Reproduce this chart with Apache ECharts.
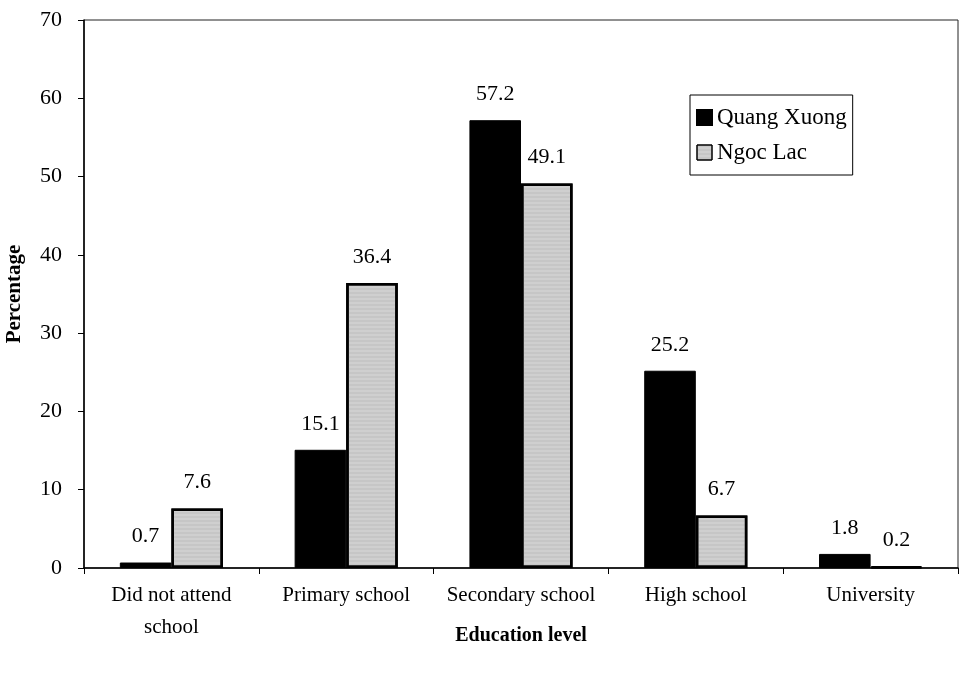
<!DOCTYPE html>
<html><head><meta charset="utf-8">
<script src="https://cdn.jsdelivr.net/npm/echarts@6/dist/echarts.min.js"></script>
<style>html,body{margin:0;padding:0;background:#fff}#c{width:961px;height:678px}</style>
</head><body><div id="c"></div>
<script>
const categories = ['Did not attend\nschool', 'Primary school', 'Secondary school', 'High school', 'University'];
const quangXuong = [0.7, 15.1, 57.2, 25.2, 1.8];
const ngocLac = [7.6, 36.4, 49.1, 6.7, 0.2];
const yTicks = [0, 10, 20, 30, 40, 50, 60, 70];

const font = 'Liberation Serif';
const chart = echarts.init(document.getElementById('c'));
const labelStyle = {show: true, position: 'top', distance: 15, color: '#000', fontFamily: font, fontSize: 22};
chart.setOption({
  animation: false,
  backgroundColor: '#fff',
  grid: {left: 84, right: 3, top: 20, bottom: 110, show: true, borderColor: '#222', borderWidth: 1,
    containLabel: false, outerBoundsMode: 'none'},
  legend: {
    top: 95, left: 690, orient: 'vertical', itemGap: 12, itemWidth: 15, itemHeight: 15,
    borderColor: '#000', borderWidth: 1, padding: [11, 6, 11, 6],
    textStyle: {fontFamily: font, fontSize: 23, color: '#000'},
    data: [
      {name: 'Quang Xuong', icon: 'rect'},
      {name: 'Ngoc Lac', icon: 'rect', itemStyle: {color: '#cfcfcf', borderColor: '#000', borderWidth: 1}}
    ]
  },
  xAxis: {
    type: 'category', data: categories,
    name: 'Education level', nameLocation: 'middle', nameGap: 58, nameMoveOverlap: false,
    nameTextStyle: {fontFamily: font, fontSize: 20, fontWeight: 'bold', color: '#000'},
    axisLine: {lineStyle: {color: '#000', width: 1.5}},
    axisTick: {show: true, length: 6, lineStyle: {color: '#000'}},
    axisLabel: {fontFamily: font, fontSize: 21, color: '#000', margin: 11, lineHeight: 32, interval: 0}
  },
  yAxis: {
    type: 'value', min: 0, max: 70, interval: 10,
    name: 'Percentage', nameLocation: 'middle', nameGap: 59, nameMoveOverlap: false,
    nameTextStyle: {fontFamily: font, fontSize: 21, fontWeight: 'bold', color: '#000'},
    axisLine: {show: true, lineStyle: {color: '#000', width: 1.5}},
    axisTick: {show: true, length: 6, lineStyle: {color: '#000'}},
    splitLine: {show: false},
    axisLabel: {fontFamily: font, fontSize: 22, color: '#000', margin: 22,
      formatter: v => yTicks.includes(v) ? String(v) : ''}
  },
  series: [
    {name: 'Quang Xuong', type: 'bar', data: quangXuong, barGap: '0%', barCategoryGap: '41%',
      itemStyle: {color: '#000', borderColor: '#000', borderWidth: 1}, label: labelStyle},
    {name: 'Ngoc Lac', type: 'bar', data: ngocLac,
      itemStyle: {color: '#cfcfcf', borderColor: '#000', borderWidth: 2.5,
        decal: {symbol: 'rect', symbolSize: 0.6, dashArrayX: [1, 0], dashArrayY: [2, 2], color: 'rgba(120,120,120,0.35)', rotation: 0}},
      label: labelStyle}
  ]
});
</script></body></html>
